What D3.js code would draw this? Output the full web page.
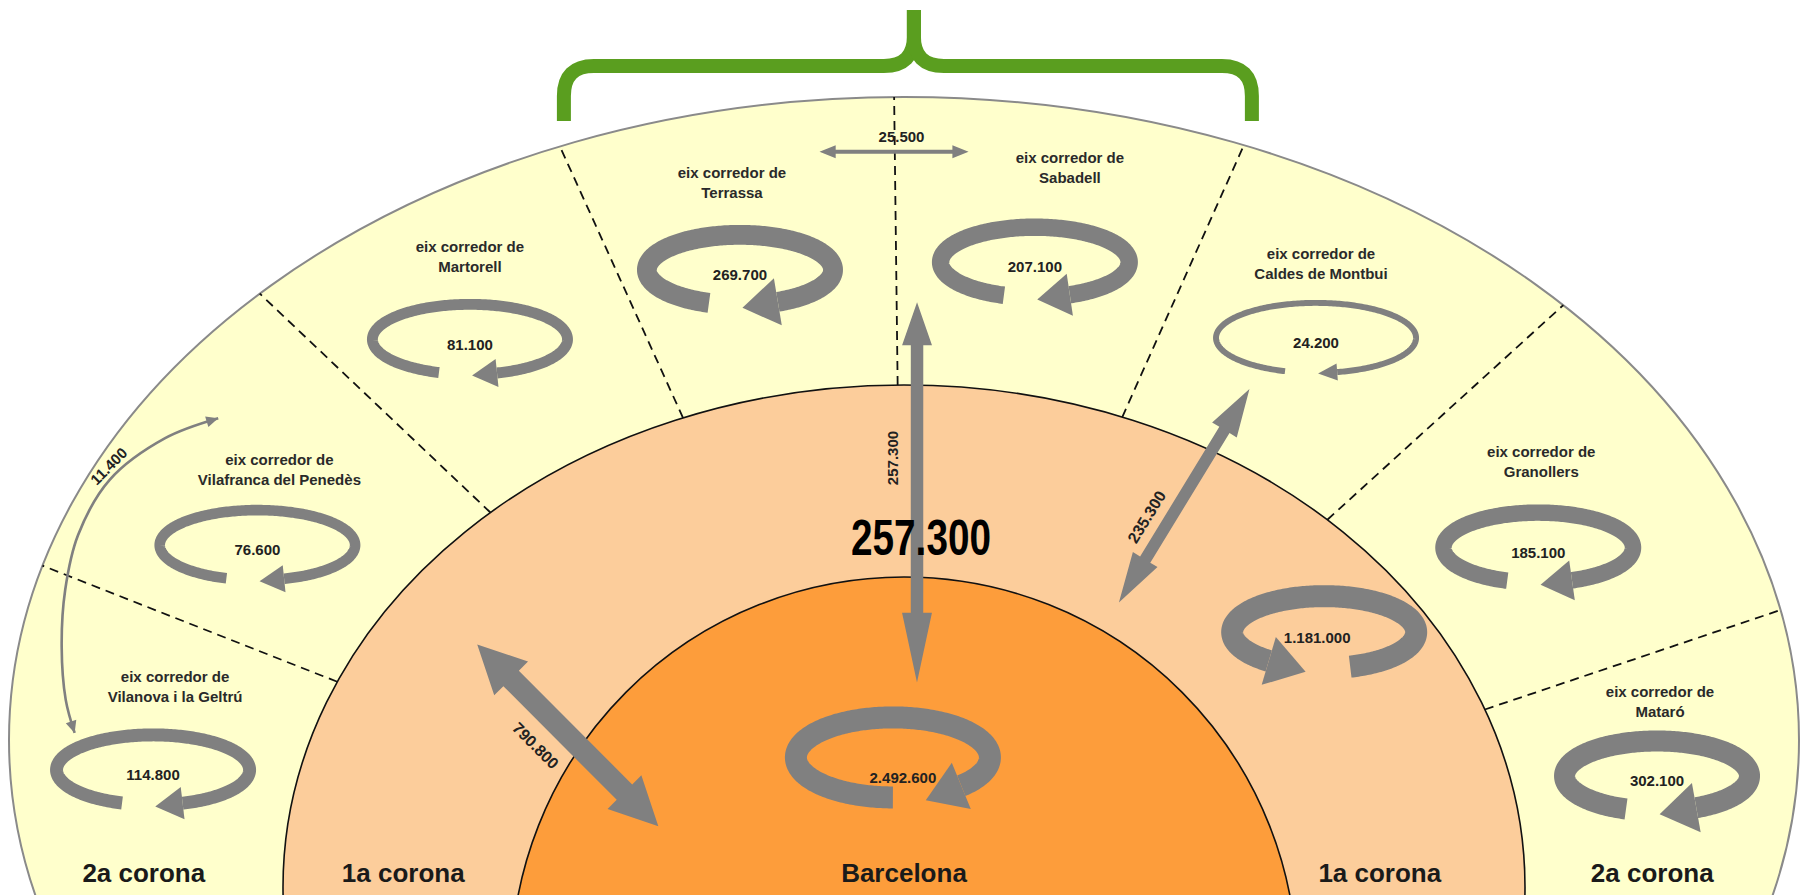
<!DOCTYPE html>
<html>
<head>
<meta charset="utf-8">
<title>Mobilitat per corredors</title>
<script src="https://cdn.jsdelivr.net/npm/d3@7"></script>
<style>
  html, body { margin: 0; padding: 0; background: #fff; }
  svg { display: block; font-family: "Liberation Sans", Arial, sans-serif; }
</style>
</head>
<body>
<svg id="chart" width="1804" height="895"></svg>
<script>
// --- data -------------------------------------------------------------
// eix corredors of the 2a corona, west (left) to east (right)
const corridors = ["Vilanova i la Geltrú", "Vilafranca del Penedès", "Martorell", "Terrassa",
  "Sabadell", "Caldes de Montbui", "Granollers", "Mataró"];
// trips made inside each corridor
const corridorTrips = [114800, 76600, 81100, 269700, 207100, 24200, 185100, 302100];

const zones = ["Barcelona", "1a corona", "2a corona"];
// trips made inside Barcelona and inside the 1a corona
const zoneTrips = [2492600, 1181000];

// exchange flows: 2a corona-Barcelona, 1a corona-Barcelona, 1a corona-2a corona,
// Terrassa-Sabadell, Vilafranca-Vilanova
const flowTrips = [257300, 790800, 235300, 25500, 11400];
const headlineFlow = 0;

// --- layout -----------------------------------------------------------
const F = { x: 904, y: 905 };            // the sector rays start here
const rings = [                          // 2a corona, 1a corona, Barcelona
  { cx: 904, cy: 740, rx: 895, ry: 643, fill: "#ffffcc", stroke: "#8a8a8a", sw: 2 },
  { cx: 904, cy: 887, rx: 621, ry: 502, fill: "#fccd9b", stroke: "#111", sw: 1.6 },
  { cx: 904, cy: 970, rx: 393, ry: 393, fill: "#fd9d3b", stroke: "#111", sw: 1.6 }
];
const sectorEdges = [-68.5, -46.5, -24.4, -0.7, 24.1, 47.7, 71.4];   // degrees from north
// [angle, distance from F]
const corridorAt = [[-79.8, 763], [-60.9, 740], [-37.5, 713], [-14.48, 656],
  [11.51, 656], [36.0, 701], [60.6, 728], [80.28, 764]];
const corridorLabelDx = [22, 22, 0, -8, 35, 5, 3, 3];
const corridorLabelDy = [-93, -85, -93, -97, -104, -84, -96, -84];
const zoneLoopAt = [[-4.3, 148], [57.0, 501]];
const flowAt = [
  [[1.24, 603], [3.34, 223]],
  [[-58.6, 500], [-72.2, 258]],
  [[33.8, 621], [35.4, 371]],
  [[-6.4, 758], [4.9, 756]],
  [[-54.63, 841], [-57.71, 874], [-61.84, 901], [-65.87, 905], [-69.42, 896],
   [-72.96, 881], [-76.25, 863], [-78.28, 847]]
];
const flowLabelAt = [[0.41, 24], [0.44, 30], [0.65, 21], [0.55, -15], [0.3, 10]];
const flowLabelRot = [-90, 45, -58.5, 0, null];
const flowHeadStretch = [[0.9, 1.45], [1, 1], [1, 1.05], [1, 1], [1, 1]];
const zoneLabelShift = [0, 0, -25, -12, 0];   // Barcelona, 1a L, 1a R, 2a L, 2a R

const grey = "#808080";
const ink = "#222";

// --- helpers ----------------------------------------------------------
const fmt = d3.formatLocale({ decimal: ",", thousands: ".", grouping: [3], currency: ["", " €"] }).format(",d");
const rad = d3.scaleLinear().domain([0, 180]).range([0, Math.PI]);
const polar = ([a, r]) => [F.x + r * Math.sin(rad(a)), F.y - r * Math.cos(rad(a))];

// where the ray from F at angle a leaves ellipse e
function rayHit(e, a) {
  const sx = Math.sin(rad(a)), sy = -Math.cos(rad(a));
  const dx = sx / e.rx, dy = sy / e.ry;
  const ox = (F.x - e.cx) / e.rx, oy = (F.y - e.cy) / e.ry;
  const A = dx * dx + dy * dy, B = 2 * (ox * dx + oy * dy), C = ox * ox + oy * oy - 1;
  const t = (-B + Math.sqrt(B * B - 4 * A * C)) / (2 * A);
  return [F.x + t * sx, F.y + t * sy];
}
const halfWidth = (e, y) => e.rx * Math.sqrt(Math.max(0, 1 - ((y - e.cy) / e.ry) ** 2));

const loopWidth = d3.scaleSqrt().domain([0, 330000]).range([0, 22]).clamp(true);
const flowWidth = d3.scaleSqrt().domain([0, 800000]).range([0, 22]);
const headLen = d3.scaleLinear().domain([3, 11]).range([12, 48]).clamp(true);
const headWid = d3.scaleLinear().domain([3, 12, 22]).range([11, 29, 48]).clamp(true);

const svg = d3.select("#chart");

// --- rings ------------------------------------------------------------
svg.append("g").selectAll("ellipse").data(rings).join("ellipse")
  .attr("cx", d => d.cx).attr("cy", d => d.cy)
  .attr("rx", d => d.rx).attr("ry", d => d.ry)
  .attr("fill", d => d.fill).attr("stroke", d => d.stroke).attr("stroke-width", d => d.sw);

// sector borders between corridors
svg.append("g").selectAll("line").data(sectorEdges).join("line")
  .each(function (a) {
    const p = rayHit(rings[1], a), q = rayHit(rings[0], a);
    d3.select(this).attr("x1", p[0]).attr("y1", p[1]).attr("x2", q[0]).attr("y2", q[1]);
  })
  .attr("stroke", "#111").attr("stroke-width", 1.8).attr("stroke-dasharray", "9,6");

// green brace over the Terrassa and Sabadell sectors
{
  const bl = rayHit(rings[0], sectorEdges[2]), br = rayHit(rings[0], sectorEdges[4]);
  const x0 = bl[0] + 4, x1 = br[0] + 8, xm = (x0 + x1) / 2 + 6;
  const yEnd = 121, yBar = 66, yTip = 10, rc = 30;
  const half = (xs, s) => {
    const p = d3.path();
    p.moveTo(xs, yEnd);
    p.lineTo(xs, yBar + rc);
    p.quadraticCurveTo(xs, yBar, xs + s * rc, yBar);
    p.lineTo(xm - s * rc, yBar);
    p.quadraticCurveTo(xm, yBar, xm, yBar - rc);
    p.lineTo(xm, yTip);
    return p.toString();
  };
  svg.append("g").selectAll("path").data([[x0, 1], [x1, -1]]).join("path")
    .attr("d", d => half(d[0], d[1]))
    .attr("fill", "none").attr("stroke", "#5a9e1f").attr("stroke-width", 14)
    .attr("stroke-linejoin", "round");
}

// --- circular arrows (internal trips) -----------------------------------
function drawLoop(x, y, value, shape) {
  const g = svg.append("g")
    .attr("transform", `translate(${x},${y})` + (shape.mirror ? " scale(-1,1)" : ""));
  const sw = loopWidth(value);
  const rx = shape.rx - sw / 2, ry = shape.ry;
  const hL = 12 + sw * 1.2, hW = Math.min(50, sw * 2.2 + 4);
  const at = phi => [rx * Math.cos(phi), ry * Math.sin(phi)];
  const phi0 = Math.acos(shape.flat / rx);
  const phi1 = 2 * Math.PI + Math.acos(Math.min(0.98, (shape.tip + hL) / rx));
  const pts = d3.range(phi0, phi1, 0.02).concat([phi1]).map(at);
  g.append("path").attr("d", d3.line()(pts))
    .attr("fill", "none").attr("stroke", grey).attr("stroke-width", sw);
  const b = at(phi1);
  const tx = -rx * Math.sin(phi1), ty = ry * Math.cos(phi1), tl = Math.hypot(tx, ty);
  const u = [tx / tl, ty / tl], n = [-u[1], u[0]];
  g.append("path")
    .attr("d", d3.line()([
      [b[0] + n[0] * hW / 2, b[1] + n[1] * hW / 2],
      [b[0] + u[0] * hL, b[1] + u[1] * hL],
      [b[0] - n[0] * hW / 2, b[1] - n[1] * hW / 2]]) + "Z")
    .attr("fill", grey);
}

const corridorShape = { rx: 103, ry: 35, flat: -31, tip: 2 };
const zoneShapes = [
  { rx: 108, ry: 40, flat: 0, tip: 30 },
  { rx: 103, ry: 36, flat: -26, tip: 17, mirror: true }
];
const zoneTextDx = [[10, 20], [-7, 6]];

corridors.forEach((name, i) => {
  const [x, y] = polar(corridorAt[i]);
  drawLoop(x, y, corridorTrips[i], corridorShape);
});
zoneTrips.forEach((v, i) => {
  const [x, y] = polar(zoneLoopAt[i]);
  drawLoop(x, y, v, zoneShapes[i]);
});

// --- exchange flows ---------------------------------------------------
function arrowPoly(p0, p1, sw, hL0, hL1, hW) {
  const dx = p1[0] - p0[0], dy = p1[1] - p0[1], L = Math.hypot(dx, dy);
  const u = [dx / L, dy / L], n = [-u[1], u[0]];
  const P = (s, o) => [p0[0] + u[0] * s + n[0] * o, p0[1] + u[1] * s + n[1] * o];
  return [P(0, 0), P(hL0, hW / 2), P(hL0, sw / 2), P(L - hL1, sw / 2), P(L - hL1, hW / 2),
    P(L, 0), P(L - hL1, -hW / 2), P(L - hL1, -sw / 2), P(hL0, -sw / 2), P(hL0, -hW / 2)];
}
function head(tip, from, hL, hW) {
  const dx = tip[0] - from[0], dy = tip[1] - from[1], L = Math.hypot(dx, dy);
  const u = [dx / L, dy / L], n = [-u[1], u[0]];
  const b = [tip[0] - u[0] * hL, tip[1] - u[1] * hL];
  return [tip, [b[0] + n[0] * hW / 2, b[1] + n[1] * hW / 2], [b[0] - n[0] * hW / 2, b[1] - n[1] * hW / 2]];
}

const flowLayer = svg.append("g");
const labelLayer = svg.append("g").attr("fill", ink).attr("font-weight", "bold");

flowTrips.forEach((v, i) => {
  const pts = flowAt[i].map(polar);
  const sw = flowWidth(v), hL = headLen(sw), hW = headWid(sw);
  const [s0, s1] = flowHeadStretch[i];
  const [t, off] = flowLabelAt[i];
  let lx, ly, rot;
  if (pts.length === 2) {
    flowLayer.append("path")
      .attr("d", d3.line()(arrowPoly(pts[0], pts[1], sw, hL * s0, hL * s1, hW)) + "Z")
      .attr("fill", grey);
    const dx = pts[1][0] - pts[0][0], dy = pts[1][1] - pts[0][1], L = Math.hypot(dx, dy);
    const u = [dx / L, dy / L], n = [-u[1], u[0]];
    lx = pts[0][0] + dx * t + n[0] * off;
    ly = pts[0][1] + dy * t + n[1] * off;
    rot = flowLabelRot[i];
  } else {
    const path = flowLayer.append("path")
      .attr("d", d3.line().curve(d3.curveCatmullRom.alpha(0.5))(pts))
      .attr("fill", "none").attr("stroke", grey).attr("stroke-width", sw);
    const node = path.node(), L = node.getTotalLength();
    const P = s => { const q = node.getPointAtLength(s); return [q.x, q.y]; };
    [[P(0), P(8)], [P(L), P(L - 8)]].forEach(([tip, from]) => {
      flowLayer.append("path").attr("d", d3.line()(head(tip, from, hL, hW)) + "Z").attr("fill", grey);
    });
    const a = P(L * t), b = P(L * t + 4);
    const ux = (b[0] - a[0]) / 4, uy = (b[1] - a[1]) / 4, ul = Math.hypot(ux, uy);
    const n = [-uy / ul, ux / ul];
    lx = a[0] + n[0] * off;
    ly = a[1] + n[1] * off;
    rot = Math.atan2(-uy, -ux) * 180 / Math.PI;
  }
  labelLayer.append("text")
    .attr("transform", `translate(${lx},${ly}) rotate(${rot})`)
    .attr("text-anchor", "middle").attr("dy", "0.35em")
    .attr("font-size", sw > 15 || (sw > 10 && rot < -30 && rot > -80) ? 16 : 15)
    .text(fmt(v));
});

// headline figure over the 2a corona - Barcelona arrow
{
  const p = flowAt[headlineFlow].map(polar);
  labelLayer.append("text")
    .attr("x", p[0][0] + (p[1][0] - p[0][0]) * 0.62 + 4)
    .attr("y", p[0][1] + (p[1][1] - p[0][1]) * 0.62)
    .attr("dy", "0.35em").attr("text-anchor", "middle")
    .attr("font-family", "'Liberation Sans Narrow', 'Liberation Sans', Arial, sans-serif")
    .attr("font-size", 50).attr("fill", "#000")
    .attr("textLength", 140).attr("lengthAdjust", "spacingAndGlyphs")
    .text(fmt(flowTrips[headlineFlow]));
}

// --- text -------------------------------------------------------------
corridors.forEach((name, i) => {
  const [x, y] = polar(corridorAt[i]);
  labelLayer.append("text").attr("x", x).attr("y", y + 5).attr("dy", "0.35em")
    .attr("text-anchor", "middle").attr("font-size", 15).text(fmt(corridorTrips[i]));
  const t = labelLayer.append("text").attr("text-anchor", "middle").attr("font-size", 15)
    .attr("fill", "#2a2a2a");
  t.append("tspan").attr("x", x + corridorLabelDx[i]).attr("y", y + corridorLabelDy[i]).attr("dy", "0.35em")
    .text("eix corredor de");
  t.append("tspan").attr("x", x + corridorLabelDx[i]).attr("y", y + corridorLabelDy[i] + 20).attr("dy", "0.35em")
    .text(name);
});
zoneTrips.forEach((v, i) => {
  const [x, y] = polar(zoneLoopAt[i]);
  labelLayer.append("text").attr("x", x + zoneTextDx[i][0]).attr("y", y + zoneTextDx[i][1])
    .attr("dy", "0.35em").attr("text-anchor", "middle").attr("font-size", 15).text(fmt(v));
});

// zone names along the bottom, centred in each band
{
  const yb = 882, yc = 873;
  const e = rings.map(r => halfWidth(r, yc));
  const cx = rings[0].cx;
  const spots = [
    [zones[0], cx],
    [zones[1], cx - (e[1] + e[2]) / 2], [zones[1], cx + (e[1] + e[2]) / 2],
    [zones[2], cx - (e[0] + e[1]) / 2], [zones[2], cx + (e[0] + e[1]) / 2]
  ];
  labelLayer.selectAll(null).data(spots).join("text")
    .attr("x", (d, i) => d[1] + zoneLabelShift[i]).attr("y", yb).attr("text-anchor", "middle")
    .attr("font-size", 26).attr("fill", "#1a1a1a").text(d => d[0]);
}
</script>
</body>
</html>
